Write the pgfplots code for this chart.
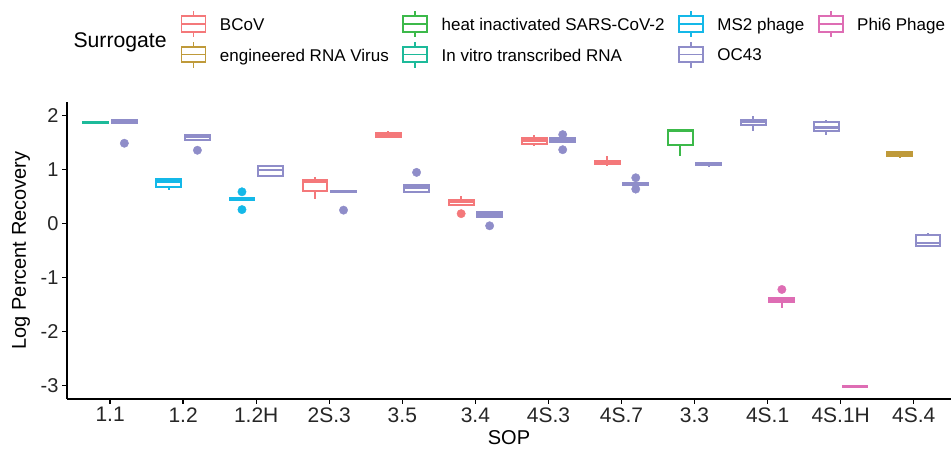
\documentclass[border=0pt]{standalone}
\usepackage{fontspec}
\setmainfont{Liberation Sans}
\usepackage{pgfplots}
\pgfplotsset{compat=1.18}
\usepgfplotslibrary{statistics}

% surrogate colours
\definecolor{bcovc}{HTML}{F4787A}
\definecolor{engc}{HTML}{BF9A3A}
\definecolor{heatc}{HTML}{3CB94A}
\definecolor{ivtc}{HTML}{1DBA9A}
\definecolor{ms2c}{HTML}{14B8E8}
\definecolor{oc43c}{HTML}{8F8DC9}
\definecolor{phic}{HTML}{DE6DB4}

\pgfplotsset{
  ggbox/.style={forget plot, solid, draw=#1, line width=2pt,
    mark=*, mark size=4.2pt, mark options={solid, fill=#1, draw=#1, line width=0.4pt},
    boxplot/draw direction=y,
    boxplot/box extend=0.34, boxplot/whisker extend=0,
    boxplot/every median/.style={line width=2.2pt}},
  ggkey/.style={legend image code/.code={
    \draw[line width=1.8pt,#1] (12pt,-11.8pt) -- (12pt,-6.5pt) (12pt,8.9pt) -- (12pt,14.2pt);
    \draw[line width=1.8pt,#1] (0pt,-6.5pt) rectangle (24pt,8.9pt);
    \draw[line width=1.8pt,#1] (0pt,1.2pt) -- (24pt,1.2pt);
  }},
}

\begin{document}
\begin{tikzpicture}
\begin{axis}[
  scale only axis, width=884pt, height=297.3pt,
  xmin=0.41, xmax=12.51, ymin=-3.25, ymax=2.26,
  axis x line*=bottom, axis y line*=left,
  axis line style={line width=1.4pt, black},
  tick style={line width=1.4pt, black}, tick align=outside, major tick length=5pt,
  xtick={1,...,12},
  xticklabels={1.1,1.2,1.2H,2S.3,3.5,3.4,4S.3,4S.7,3.3,4S.1,4S.1H,4S.4},
  ytick={-3,-2,-1,0,1,2},
  yticklabels={-3,-2,-1,0,1,2},
  ticklabel style={font=\fontsize{20}{24}\selectfont, text=black!85},
  xticklabel style={font=\fontsize{21}{24}\selectfont},
  xlabel=SOP, ylabel=Log Percent Recovery,
  label style={font=\fontsize{20}{24}\selectfont},
  xlabel style={at={(axis description cs:0.5,-0.131)}, anchor=center},
  ylabel style={at={(axis description cs:-0.052,0.5)}, anchor=center},
  legend columns=4,
  legend style={draw=none, fill=none, inner sep=0pt, outer sep=0pt,
    at={(axis description cs:0.1286,1.3084)}, anchor=north west,
    font=\fontsize{17}{20}\selectfont, row sep=2.8pt,
    /tikz/every odd column/.append style={column sep=13.5pt},
    /tikz/every even column/.append style={column sep=13.5pt},
    nodes={inner sep=0pt}},
  legend cell align=left,
  clip=false,
]
\addlegendimage{ggkey=bcovc}
\addlegendentry{BCoV}
\addlegendimage{ggkey=heatc}
\addlegendentry{heat inactivated SARS-CoV-2}
\addlegendimage{ggkey=ms2c}
\addlegendentry{MS2 phage}
\addlegendimage{ggkey=phic}
\addlegendentry{Phi6 Phage}
\addlegendimage{ggkey=engc}
\addlegendentry{engineered RNA Virus}
\addlegendimage{ggkey=ivtc}
\addlegendentry{In vitro transcribed RNA}
\addlegendimage{ggkey=oc43c}
\addlegendentry{OC43}

% 1.1
\addplot[ggbox=ivtc, boxplot prepared={draw position=0.805, lower whisker=1.86, lower quartile=1.86, median=1.87, upper quartile=1.88, upper whisker=1.90}] coordinates {};
\addplot[ggbox=oc43c, boxplot prepared={draw position=1.195, lower whisker=1.85, lower quartile=1.86, median=1.89, upper quartile=1.92, upper whisker=1.93}] table[row sep=\\, y index=0] {data\\ 1.49\\};
% 1.2
\addplot[ggbox=ms2c, boxplot prepared={draw position=1.805, lower whisker=0.62, lower quartile=0.68, median=0.78, upper quartile=0.82, upper whisker=0.83}] coordinates {};
\addplot[ggbox=oc43c, boxplot prepared={draw position=2.195, lower whisker=1.54, lower quartile=1.55, median=1.60, upper quartile=1.64, upper whisker=1.65}] table[row sep=\\, y index=0] {data\\ 1.36\\};
% 1.2H
\addplot[ggbox=ms2c, boxplot prepared={draw position=2.805, lower whisker=0.42, lower quartile=0.43, median=0.46, upper quartile=0.48, upper whisker=0.49}] table[row sep=\\, y index=0] {data\\ 0.59\\ 0.26\\};
\addplot[ggbox=oc43c, boxplot prepared={draw position=3.195, lower whisker=0.88, lower quartile=0.89, median=0.99, upper quartile=1.06, upper whisker=1.07}] coordinates {};
% 2S.3
\addplot[ggbox=bcovc, boxplot prepared={draw position=3.805, lower whisker=0.46, lower quartile=0.61, median=0.78, upper quartile=0.81, upper whisker=0.86}] coordinates {};
\addplot[ggbox=oc43c, boxplot prepared={draw position=4.195, lower whisker=0.59, lower quartile=0.59, median=0.60, upper quartile=0.61, upper whisker=0.61}] table[row sep=\\, y index=0] {data\\ 0.25\\};
% 3.5
\addplot[ggbox=bcovc, boxplot prepared={draw position=4.805, lower whisker=1.59, lower quartile=1.61, median=1.645, upper quartile=1.68, upper whisker=1.71}] coordinates {};
\addplot[ggbox=oc43c, boxplot prepared={draw position=5.195, lower whisker=0.56, lower quartile=0.59, median=0.67, upper quartile=0.72, upper whisker=0.72}] table[row sep=\\, y index=0] {data\\ 0.95\\};
% 3.4
\addplot[ggbox=bcovc, boxplot prepared={draw position=5.805, lower whisker=0.34, lower quartile=0.34, median=0.40, upper quartile=0.44, upper whisker=0.52}] table[row sep=\\, y index=0] {data\\ 0.185\\};
\addplot[ggbox=oc43c, boxplot prepared={draw position=6.195, lower whisker=0.13, lower quartile=0.13, median=0.17, upper quartile=0.22, upper whisker=0.22}] table[row sep=\\, y index=0] {data\\ -0.04\\};
% 4S.3
\addplot[ggbox=bcovc, boxplot prepared={draw position=6.805, lower whisker=1.43, lower quartile=1.47, median=1.54, upper quartile=1.58, upper whisker=1.64}] coordinates {};
\addplot[ggbox=oc43c, boxplot prepared={draw position=7.195, lower whisker=1.51, lower quartile=1.52, median=1.55, upper quartile=1.58, upper whisker=1.58}] table[row sep=\\, y index=0] {data\\ 1.65\\ 1.37\\};
% 4S.7
\addplot[ggbox=bcovc, boxplot prepared={draw position=7.805, lower whisker=1.06, lower quartile=1.10, median=1.14, upper quartile=1.17, upper whisker=1.25}] coordinates {};
\addplot[ggbox=oc43c, boxplot prepared={draw position=8.195, lower whisker=0.71, lower quartile=0.72, median=0.74, upper quartile=0.76, upper whisker=0.77}] table[row sep=\\, y index=0] {data\\ 0.85\\ 0.64\\};
% 3.3
\addplot[ggbox=heatc, boxplot prepared={draw position=8.805, lower whisker=1.25, lower quartile=1.45, median=1.715, upper quartile=1.73, upper whisker=1.73}] coordinates {};
\addplot[ggbox=oc43c, boxplot prepared={draw position=9.195, lower whisker=1.05, lower quartile=1.08, median=1.10, upper quartile=1.12, upper whisker=1.13}] coordinates {};
% 4S.1
\addplot[ggbox=oc43c, boxplot prepared={draw position=9.805, lower whisker=1.71, lower quartile=1.83, median=1.89, upper quartile=1.92, upper whisker=2.00}] coordinates {};
\addplot[ggbox=phic, boxplot prepared={draw position=10.195, lower whisker=-1.57, lower quartile=-1.46, median=-1.42, upper quartile=-1.38, upper whisker=-1.37}] table[row sep=\\, y index=0] {data\\ -1.22\\};
% 4S.1H
\addplot[ggbox=oc43c, boxplot prepared={draw position=10.805, lower whisker=1.65, lower quartile=1.71, median=1.78, upper quartile=1.88, upper whisker=1.93}] coordinates {};
\addplot[ggbox=phic, boxplot prepared={draw position=11.195, lower whisker=-3.04, lower quartile=-3.03, median=-3.02, upper quartile=-3.01, upper whisker=-3.00}] coordinates {};
% 4S.4
\addplot[ggbox=engc, boxplot prepared={draw position=11.805, lower whisker=1.22, lower quartile=1.26, median=1.29, upper quartile=1.32, upper whisker=1.32}] coordinates {};
\addplot[ggbox=oc43c, boxplot prepared={draw position=12.195, lower whisker=-0.43, lower quartile=-0.41, median=-0.36, upper quartile=-0.21, upper whisker=-0.17}] coordinates {};
\end{axis}
\node[anchor=west, font=\fontsize{21.2}{25}\selectfont] at ([xshift=3pt,yshift=59pt]current axis.north west) {Surrogate};
\pgfresetboundingbox
\path[use as bounding box] ([xshift=-67pt,yshift=-53pt]current axis.south west) rectangle ([yshift=101.7pt]current axis.north east);
\end{tikzpicture}
\end{document}
